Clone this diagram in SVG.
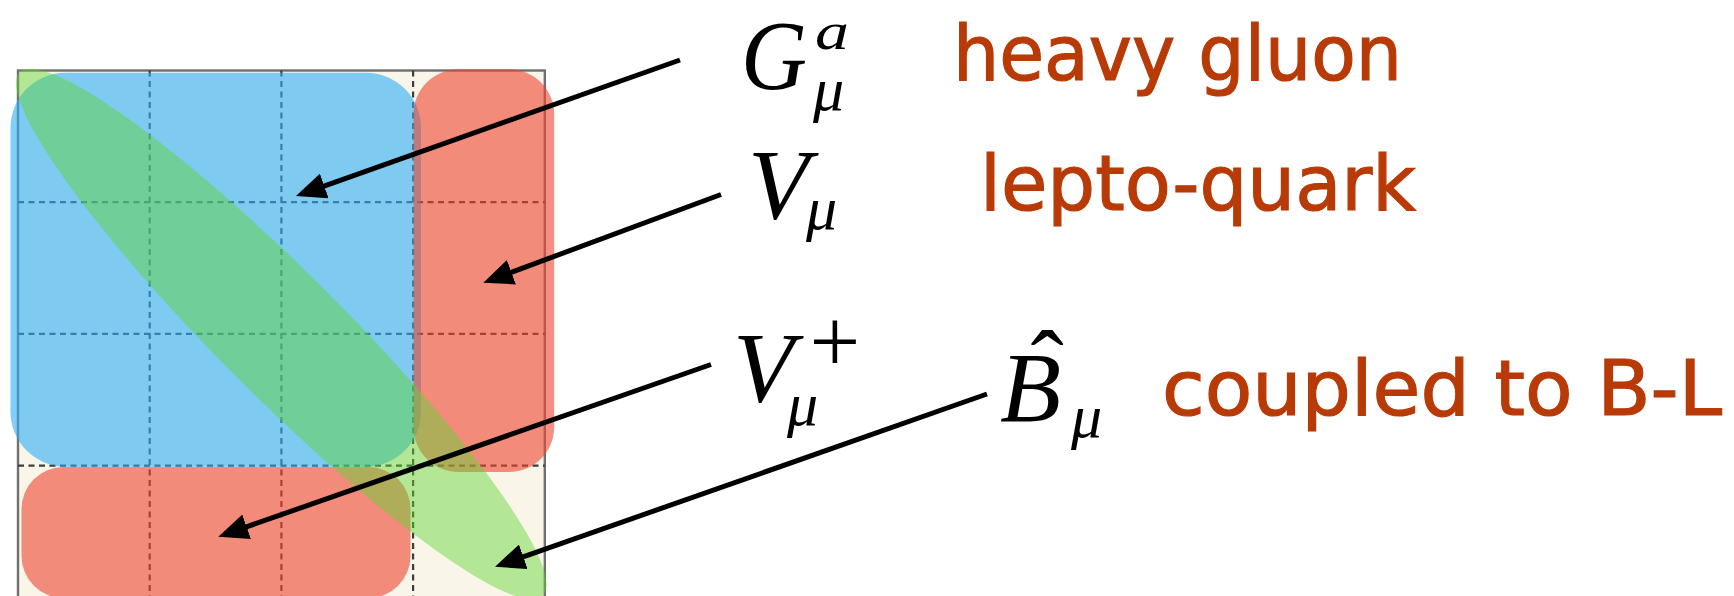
<svg xmlns="http://www.w3.org/2000/svg" width="1734" height="596" viewBox="0 0 1734 596">
<defs>
<style>
.frame{fill:#f9f6e9;stroke:#707070;stroke-width:2.4}
.grid{stroke:#3c3c3c;stroke-width:2.2;stroke-dasharray:6 4.5;fill:none}
.blue{fill:#2badf5;fill-opacity:.6}
.red{fill:#ec4431;fill-opacity:.6}
.green{fill:#60d532;fill-opacity:.46}
.arrow{stroke:#000;stroke-width:5;fill:none;marker-end:url(#ah)}
.math{font-family:"Liberation Serif","DejaVu Serif",serif;font-style:italic;fill:#000}
.up{font-style:normal}
.label{font-family:"DejaVu Sans",sans-serif;fill:#b83a06;stroke:#b83a06;stroke-width:1.2;font-size:76px}
</style>
<marker id="ah" markerUnits="userSpaceOnUse" viewBox="0 0 30 26" markerWidth="30" markerHeight="26" refX="1" refY="13" orient="auto">
<path d="M0,0 L30,13 L0,26 z" fill="#000"/>
</marker>
</defs>
<rect width="1734" height="596" fill="#fff"/>
<g id="grid">
<rect class="frame" x="18" y="70.5" width="526.8" height="560"/>
<path class="grid" d="M149.7,70.5V596M281.4,70.5V596M413.1,70.5V596M18,202.2H544.8M18,333.9H544.8M18,465.6H544.8"/>
</g>
<g id="gluon-block"><rect class="blue" x="10.5" y="72.7" width="410.5" height="394" rx="55"/></g>
<g id="leptoquark-column"><rect class="red" x="413.5" y="69.2" width="140.7" height="402.8" rx="45"/></g>
<g id="leptoquark-row"><rect class="red" x="21.5" y="467" width="389" height="131" rx="42"/></g>
<g id="bl-diagonal"><ellipse class="green" cx="281.3" cy="334" rx="370" ry="62" transform="rotate(45 281.3 334)"/></g>
<g id="label-G">
<text class="math" x="741" y="89" font-size="100" textLength="66" lengthAdjust="spacingAndGlyphs">G</text>
<text class="math" x="815" y="49" font-size="52" textLength="34" lengthAdjust="spacingAndGlyphs">a</text>
<text class="math" x="813" y="110" font-size="62">μ</text>
<text class="label" x="953" y="80" textLength="449" lengthAdjust="spacingAndGlyphs">heavy gluon</text>
</g>
<g id="label-V">
<text class="math" x="748" y="218" font-size="100">V<tspan x="806" y="229" font-size="62">μ</tspan></text>
<text class="label" x="980" y="210" textLength="436" lengthAdjust="spacingAndGlyphs">lepto-quark</text>
</g>
<g id="label-Vplus">
<text class="math" x="733" y="401" font-size="100">V<tspan class="up" x="809.6" y="372" font-size="90">+</tspan><tspan x="787" y="425" font-size="62">μ</tspan></text>
</g>
<g id="label-B">
<text class="math" x="1000" y="421" font-size="100">B<tspan class="up" x="1030.4" y="400">ˆ</tspan><tspan x="1071" y="437" font-size="62">μ</tspan></text>
<text class="label" x="1162" y="415" textLength="560" lengthAdjust="spacingAndGlyphs">coupled to B-L</text>
</g>
<g id="connectors">
<line class="arrow" x1="680" y1="60" x2="323.3" y2="186.3"/>
<line class="arrow" x1="721" y1="194.5" x2="510.5" y2="272.6"/>
<line class="arrow" x1="711" y1="364.5" x2="245.7" y2="527.1"/>
<line class="arrow" x1="987" y1="394" x2="522.4" y2="557.1"/>
</g>
</svg>
